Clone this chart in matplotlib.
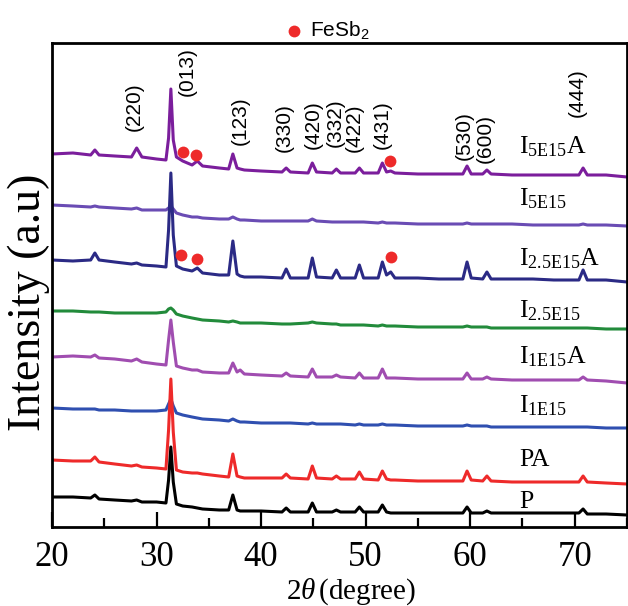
import matplotlib
matplotlib.use("Agg")
import matplotlib.pyplot as plt
from matplotlib.ticker import MultipleLocator

plt.rcParams['font.family'] = ['Liberation Serif', 'DejaVu Serif']
plt.rcParams['mathtext.fontset'] = 'custom'
plt.rcParams['mathtext.rm'] = 'Liberation Serif'
plt.rcParams['mathtext.it'] = 'Liberation Serif:italic'
plt.rcParams['mathtext.sf'] = 'Liberation Sans'

# ---------------- data ----------------
two_theta = [20, 22, 23.7, 24.1, 24.5, 26, 27.6, 28.1, 28.6, 30,
             30.9, 31.15, 31.37, 31.6, 31.9, 32.5, 33.4, 33.9, 34.4, 36,
             36.9, 37.3, 37.7, 38.0, 38.4, 40, 42.0, 42.4, 42.8, 44.5,
             44.9, 45.3, 46.8, 47.2, 47.6, 49.0, 49.4, 49.8, 51.2, 51.6,
             52.0, 52.4, 52.8, 55, 57, 59.3, 59.7, 60.1, 61.2, 61.6,
             62.0, 64, 66, 68, 70.4, 70.8, 71.2, 73, 75]

int_I5E15A = [373, 374, 372, 377, 372, 371, 370, 379, 370, 368,
              367, 389, 438, 387, 370, 366, 362, 366, 361, 359,
              358, 373, 359, 358, 357, 356, 355, 359, 355, 354,
              364, 355, 354, 358, 354, 354, 359, 354, 354, 364,
              355, 356, 354, 353, 353, 353, 361, 353, 353, 357,
              353, 352, 352, 352, 352, 359, 352, 352, 350]
int_I5E15 = [322, 321, 320, 321, 320, 319, 318, 319, 317, 317,
             317, 319, 321, 318, 314, 312, 310, 310, 309, 308,
             308, 310, 308, 307, 307, 306, 306, 306, 306, 306,
             308, 306, 305, 305, 305, 305, 305, 305, 304, 305,
             304, 304, 304, 303, 303, 303, 304, 303, 303, 303,
             303, 303, 302, 302, 302, 303, 302, 302, 301]
int_I25E15A = [267, 266, 267, 274, 267, 265, 263, 264, 262, 261,
               260, 297, 354, 292, 261, 258, 256, 259, 254, 252,
               252, 286, 253, 251, 250, 250, 249, 258, 249, 249,
               269, 250, 249, 257, 249, 249, 262, 249, 249, 265,
               252, 255, 249, 249, 248, 248, 265, 249, 248, 255,
               248, 248, 248, 247, 247, 257, 247, 247, 245]
int_I25E15 = [216, 216, 215, 215, 215, 214, 214, 214, 214, 214,
              215, 218, 219, 217, 213, 211, 209, 208, 207, 206,
              205, 206, 205, 204, 204, 204, 203, 203, 203, 204,
              205, 204, 203, 203, 202, 202, 202, 202, 201, 202,
              201, 201, 201, 200, 200, 200, 201, 200, 200, 200,
              199, 199, 199, 199, 199, 199, 199, 198, 198]
int_I1E15A = [170, 171, 170, 172, 169, 168, 166, 168, 165, 163,
              162, 187, 207, 185, 161, 159, 157, 157, 155, 154,
              154, 164, 155, 157, 153, 152, 151, 154, 151, 150,
              158, 150, 150, 152, 150, 149, 154, 149, 149, 158,
              149, 149, 149, 148, 148, 148, 154, 148, 148, 150,
              148, 147, 147, 147, 147, 150, 147, 146, 144]
int_I1E15 = [119, 118, 118, 118, 117, 117, 116, 116, 116, 116,
             117, 123, 128, 121, 114, 112, 110, 109, 108, 107,
             106, 108, 106, 105, 105, 104, 104, 104, 104, 103,
             104, 103, 103, 103, 103, 102, 103, 102, 102, 103,
             102, 102, 102, 101, 101, 101, 102, 101, 101, 101,
             100, 100, 100, 100, 100, 100, 100, 99, 99]
int_PA = [67, 66, 66, 70, 65, 63, 61, 62, 60, 59,
          58, 97, 148, 95, 57, 55, 54, 54, 53, 51,
          50, 73, 51, 50, 49, 49, 49, 53, 49, 48,
          61, 49, 48, 51, 48, 48, 55, 48, 47, 56,
          48, 47, 47, 46, 46, 46, 56, 47, 46, 51,
          46, 45, 45, 45, 45, 51, 45, 44, 43]
int_P = [30, 30, 29, 32, 28, 27, 26, 27, 25, 25,
         24, 47, 80, 45, 23, 21, 20, 19, 18, 17,
         17, 32, 17, 16, 16, 16, 15, 19, 15, 15,
         24, 15, 15, 17, 15, 15, 20, 15, 15, 22,
         15, 14, 14, 14, 14, 14, 20, 14, 14, 16,
         14, 14, 14, 14, 14, 18, 13, 13, 12]

sample_names = ['I$_{\\mathrm{5E15}}$A', 'I$_{\\mathrm{5E15}}$', 'I$_{\\mathrm{2.5E15}}$A',
                'I$_{\\mathrm{2.5E15}}$', 'I$_{\\mathrm{1E15}}$A', 'I$_{\\mathrm{1E15}}$',
                'PA', 'P']
series = [int_I5E15A, int_I5E15, int_I25E15A, int_I25E15,
          int_I1E15A, int_I1E15, int_PA, int_P]
colors = ['#7B1E9C', '#6A4CB4', '#2B2A85', '#228B3B',
          '#A04DB0', '#2F4FB0', '#EE2A2A', '#000000']
name_y = [374, 322, 262, 210, 164, 115, 61, 19]

# FeSb2 impurity markers (2theta, intensity)
fesb2_x = [32.5, 33.75, 52.3, 32.3, 33.9, 52.4]
fesb2_y = [375, 372, 366, 272, 268, 270]

# Miller indices labels
hkl_labels = ['(220)', '(013)', '(123)', '(330)', '(420)', '(332)',
              '(422)', '(431)', '(530)', '(600)', '(444)']
hkl_x = [27.83, 32.9, 38.05, 42.2, 45.0, 47.1, 48.9, 51.6, 59.4, 61.4, 70.2]
hkl_y = [420, 455, 406, 399, 402, 404.5, 399, 402, 391, 388.5, 434]

# ---------------- figure ----------------
W, H = 628, 606
fig = plt.figure(figsize=(W / 100, H / 100), dpi=100)
ax = fig.add_axes([52 / W, (H - 527) / H, 575 / W, 484 / H])

for ys, c in zip(series, colors):
    ax.plot(two_theta, ys, color=c, lw=2.2, solid_joinstyle='round')

ax.plot(fesb2_x, fesb2_y, 'o', color='#EE2A2A', ms=8.5, mec='none', zorder=5)

for lab, yy in zip(sample_names, name_y):
    ax.text(64.7, yy, lab, fontsize=18.5, ha='left', va='baseline')

for lab, xx, yy in zip(hkl_labels, hkl_x, hkl_y):
    ax.text(xx, yy, lab, rotation=90, ha='center', va='center',
            fontsize=15, family=['Liberation Sans', 'DejaVu Sans'])

ax.set_xlim(20, 75)
ax.set_ylim(0, 484)
ax.set_yticks([])
ax.xaxis.set_major_locator(MultipleLocator(10))
ax.xaxis.set_minor_locator(MultipleLocator(5))
ax.tick_params(axis='x', which='major', direction='in', length=11, width=1.6,
               labelsize=25, pad=10)
ax.tick_params(axis='x', which='minor', direction='in', length=6.5, width=1.6)
for s in ax.spines.values():
    s.set_linewidth(2.0)

# legend for FeSb2 (above the frame)
fig.lines.append(plt.Line2D([294 / W], [1 - 31 / H], marker='o', color='#EE2A2A',
                            ms=8.5, mec='none', transform=fig.transFigure))
fig.text(310 / W, 1 - 31 / H, r'$\mathsf{FeSb_2}$', fontsize=15, ha='left', va='center')

fig.text(351 / W, 7 / H, r'$2\theta\,$(degree)', fontsize=21, ha='center', va='baseline')
fig.text(29 / W, 1 - 302 / H, 'Intensity (a.u)', fontsize=33, rotation=90,
         ha='center', va='center')

fig.savefig('out.png', dpi=100)
